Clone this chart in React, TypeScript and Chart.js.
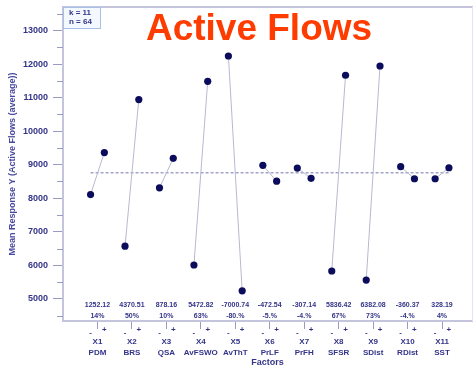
import React, { useEffect, useRef } from "react";
import { Chart, registerables } from "chart.js";

Chart.register(...registerables);

const factorCodes = ["X1", "X2", "X3", "X4", "X5", "X6", "X7", "X8", "X9", "X10", "X11"];
const factorNames = ["PDM", "BRS", "QSA", "AvFSWO", "AvThT", "PrLF", "PrFH", "SFSR", "SDist", "RDist", "SST"];
const lowMeans = [8110, 6570, 8310, 6010, 12240, 8980, 8900, 5830, 5560, 8940, 8580];
const highMeans = [9362, 10940, 9188, 11483, 5240, 8507, 8593, 11666, 11942, 8580, 8908];
const effectLabels = ["1252.12", "4370.51", "878.16", "5472.82", "-7000.74", "-472.54", "-307.14", "5836.42", "6382.08", "-360.37", "328.19"];
const percentLabels = ["14%", "50%", "10%", "63%", "-80.%", "-5.%", "-4.%", "67%", "73%", "-4.%", "4%"];
const grandMean = 8760;
const yMajorTicks = [5000, 6000, 7000, 8000, 9000, 10000, 11000, 12000, 13000];
const yMinorTicks = [4500, 5500, 6500, 7500, 8500, 9500, 10500, 11500, 12500, 13500];
const infoLines = ["k = 11", "n = 64"];
const chartTitle = "Active Flows";
const yTitle = "Mean Response Y (Active Flows (average))";
const xTitle = "Factors";

const NAVY = "#34348a";
const POINT = "#0c0c5c";
const FRAME = "#c4c4dc";
const FONT = "'Liberation Sans', Arial, sans-serif";

export default function App() {
  const ref = useRef<HTMLCanvasElement | null>(null);

  useEffect(() => {
    if (!ref.current) return;
    const datasets: any[] = factorCodes.map((code, i) => ({
      label: code,
      data: [
        { x: i + 1 - 0.2, y: lowMeans[i] },
        { x: i + 1 + 0.2, y: highMeans[i] },
      ],
      showLine: true,
      borderColor: "#b8b8d2",
      borderWidth: 1,
      pointBackgroundColor: POINT,
      pointBorderColor: POINT,
      pointBorderWidth: 0,
      pointRadius: 3.6,
    }));
    datasets.push({
      label: "mean",
      data: [
        { x: 0.8, y: grandMean },
        { x: 11.2, y: grandMean },
      ],
      showLine: true,
      borderColor: "#a4a4c8",
      borderWidth: 1.5,
      borderDash: [3, 2],
      pointRadius: 0,
    });

    const decor = {
      id: "decor",
      afterDraw(chart: any) {
        const ctx = chart.ctx;
        const xs = chart.scales.x;
        const ys = chart.scales.y;
        const area = chart.chartArea;
        ctx.save();
        // frame top & right
        ctx.strokeStyle = FRAME;
        ctx.lineWidth = 2;
        ctx.beginPath();
        ctx.moveTo(area.left, area.top);
        ctx.lineTo(chart.width, area.top);
        ctx.stroke();
        ctx.lineWidth = 1;
        ctx.strokeStyle = "#e4e4f0";
        ctx.beginPath();
        ctx.moveTo(area.right + 0.5, area.top);
        ctx.lineTo(area.right + 0.5, area.bottom);
        ctx.stroke();
        // minor y ticks
        ctx.strokeStyle = "#9a9ac4";
        ctx.lineWidth = 1;
        yMinorTicks.forEach((v) => {
          const py = Math.round(ys.getPixelForValue(v)) + 0.5;
          ctx.beginPath();
          ctx.moveTo(area.left - 6, py);
          ctx.lineTo(area.left, py);
          ctx.stroke();
        });
        // effect & percent labels
        ctx.fillStyle = NAVY;
        ctx.textAlign = "center";
        ctx.textBaseline = "middle";
        ctx.font = `bold 7px ${FONT}`;
        factorCodes.forEach((_, i) => {
          const cx = xs.getPixelForValue(i + 1);
          ctx.fillText(effectLabels[i], cx, area.bottom - 16);
          ctx.fillText(percentLabels[i], cx, area.bottom - 5);
        });
        // - and + markers
        ctx.font = `bold 8px ${FONT}`;
        factorCodes.forEach((_, i) => {
          ctx.fillText("-", xs.getPixelForValue(i + 1 - 0.2), area.bottom + 12);
          ctx.fillText("+", xs.getPixelForValue(i + 1 + 0.2), area.bottom + 9);
        });
        // info box
        const bx = area.left;
        const by = area.top;
        ctx.fillStyle = "#f4f8ff";
        ctx.fillRect(bx, by, 37, 21);
        ctx.strokeStyle = "#a8c0e6";
        ctx.lineWidth = 1;
        ctx.strokeRect(bx + 0.5, by + 0.5, 37, 21);
        ctx.fillStyle = NAVY;
        ctx.textAlign = "left";
        ctx.font = `bold 8px ${FONT}`;
        infoLines.forEach((t, j) => ctx.fillText(t, bx + 6, by + 6 + j * 9));
        // title
        ctx.fillStyle = "#ff3c00";
        ctx.textAlign = "center";
        ctx.textBaseline = "alphabetic";
        ctx.font = `bold 37px ${FONT}`;
        ctx.fillText(chartTitle, 259, 40);
        ctx.restore();
      },
    };

    const chart = new Chart(ref.current, {
      type: "scatter",
      data: { datasets },
      plugins: [decor],
      options: {
        animation: false,
        responsive: false,
        maintainAspectRatio: false,
        layout: { autoPadding: false, padding: { top: 7, right: 1, left: 0, bottom: 0 } },
        plugins: { legend: { display: false }, tooltip: { enabled: false }, title: { display: false } },
        scales: {
          x: {
            type: "linear",
            position: "bottom",
            min: 0,
            max: 11.87,
            afterBuildTicks: (scale: any) => {
              scale.ticks = factorCodes.map((_, i) => ({ value: i + 1 }));
            },
            afterFit: (scale: any) => {
              scale.height = 48;
              scale.paddingLeft = 0;
              scale.paddingRight = 0;
            },
            border: { display: true, color: FRAME, width: 2 },
            grid: { drawOnChartArea: false, drawTicks: true, tickLength: 8, color: "#9a9ac4", lineWidth: 1 },
            ticks: {
              autoSkip: false,
              maxRotation: 0,
              padding: 8,
              color: NAVY,
              font: { family: FONT, size: 8, weight: "bold", lineHeight: 1.3 },
              callback: (v: any) => {
                const i = Math.round(Number(v)) - 1;
                return [factorCodes[i], factorNames[i]];
              },
            },
            title: {
              display: true,
              text: xTitle,
              color: NAVY,
              font: { family: FONT, size: 9, weight: "bold" },
              padding: { top: 0, bottom: 1 },
            },
          },
          y: {
            type: "linear",
            position: "left",
            min: 4340,
            max: 13700,
            afterBuildTicks: (scale: any) => {
              scale.ticks = yMajorTicks.map((v) => ({ value: v }));
            },
            afterFit: (scale: any) => {
              scale.width = 63;
              scale.paddingTop = 0;
              scale.paddingBottom = 0;
            },
            border: { display: true, color: FRAME, width: 2 },
            grid: { drawOnChartArea: false, drawTicks: true, tickLength: 10, color: "#9a9ac4", lineWidth: 1 },
            ticks: {
              padding: 5,
              color: NAVY,
              font: { family: FONT, size: 9, weight: "bold" },
              callback: (v: any) => String(v),
            },
            title: {
              display: true,
              text: yTitle,
              color: "#4848a0",
              font: { family: FONT, size: 9, weight: "bold" },
              padding: { top: 7, bottom: 0 },
            },
          },
        },
      } as any,
    });
    return () => chart.destroy();
  }, []);

  return (
    <div style={{ position: "absolute", left: 0, top: 0, width: 473, height: 369, background: "#ffffff" }}>
      <canvas ref={ref} width={473} height={369} style={{ width: 473, height: 369, display: "block" }} />
    </div>
  );
}
